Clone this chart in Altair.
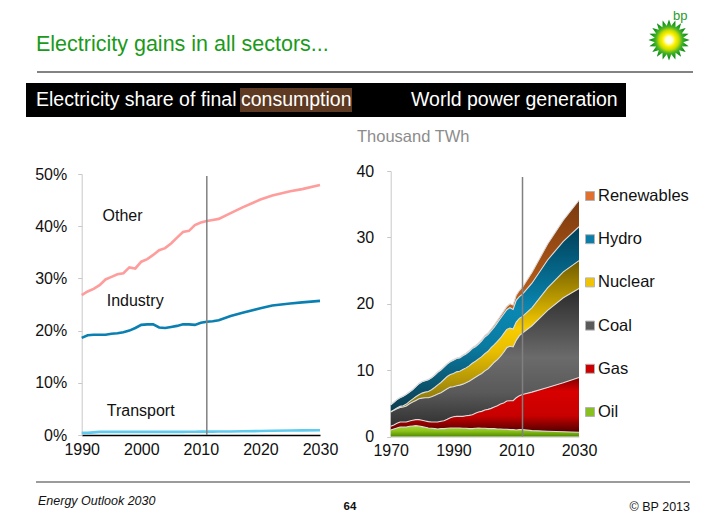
import math
import altair as alt
import pandas as pd

FONT = "Liberation Sans"

# ---------------- data: electricity share of final consumption (%) ----------------
share_years = list(range(1990, 2014)) + [2015, 2017, 2020, 2022, 2025, 2027, 2030]
share_other = [26.8, 27.5, 28.0, 28.7, 29.8, 30.3, 30.8, 31.0, 32.1, 31.9,
               33.2, 33.7, 34.5, 35.4, 35.8, 36.7, 37.8, 38.9, 39.1, 40.2,
               40.7, 41.0, 41.2, 41.4, 42.5, 43.6, 45.1, 45.9, 46.7, 47.1, 47.9]
share_industry = [18.6, 19.1, 19.2, 19.2, 19.2, 19.4, 19.5, 19.7, 20.0, 20.5,
                  21.1, 21.2, 21.2, 20.6, 20.5, 20.7, 20.9, 21.2, 21.2, 21.1,
                  21.5, 21.7, 21.8, 22.0, 22.8, 23.4, 24.3, 24.8, 25.2, 25.4, 25.7]
share_transport = [0.4, 0.4, 0.5, 0.6, 0.6, 0.6, 0.6, 0.6, 0.6, 0.6,
                   0.6, 0.6, 0.6, 0.6, 0.6, 0.6, 0.6, 0.6, 0.62, 0.63,
                   0.64, 0.65, 0.65, 0.66, 0.68, 0.72, 0.76, 0.8, 0.85, 0.88, 0.92]
share_series = ["Other", "Industry", "Transport"]
share_colors = ["#ff9c9c", "#0a7fb2", "#5ecbef"]
share_label_years = [1993.5, 1994.2, 1994.2]
share_label_values = [42.0, 25.7, 4.6]
share_ticks_y = [0, 10, 20, 30, 40, 50]
share_ticks_x = [1990, 2000, 2010, 2020, 2030]
share_marker_year = [2011]

# ---------------- data: world power generation (thousand TWh) ----------------
power_years = list(range(1970, 2013)) + [2015, 2020, 2025, 2030]
power_sources = ["Oil", "Gas", "Coal", "Nuclear", "Hydro", "Renewables"]
power_oil = [1.0, 1.15, 1.3, 1.45, 1.45, 1.45, 1.55, 1.6, 1.65, 1.6,
             1.5, 1.4, 1.3, 1.25, 1.2, 1.15, 1.2, 1.2, 1.25, 1.3,
             1.3, 1.3, 1.3, 1.25, 1.25, 1.2, 1.2, 1.25, 1.3, 1.25,
             1.25, 1.2, 1.2, 1.2, 1.15, 1.15, 1.1, 1.1, 1.05, 1.05,
             1.0, 1.05, 1.05, 0.9, 0.8, 0.72, 0.65]
power_gas = [0.55, 0.6, 0.7, 0.75, 0.75, 0.75, 0.8, 0.85, 0.9, 0.95,
             0.95, 0.95, 0.95, 0.95, 1.0, 1.05, 1.1, 1.2, 1.35, 1.55,
             1.7, 1.75, 1.75, 1.8, 1.9, 2.0, 2.1, 2.25, 2.4, 2.55,
             2.75, 2.9, 3.05, 3.25, 3.5, 3.75, 3.95, 4.25, 4.35, 4.35,
             4.85, 5.1, 5.3, 5.8, 6.6, 7.4, 8.25]
power_coal = [2.15, 2.2, 2.2, 2.2, 2.25, 2.4, 2.6, 2.75, 2.9, 3.15,
              3.35, 3.5, 3.6, 3.8, 4.0, 4.2, 4.3, 4.5, 4.6, 4.6,
              4.5, 4.6, 4.7, 4.85, 4.95, 5.15, 5.35, 5.45, 5.55, 5.7,
              5.9, 6.1, 6.45, 6.75, 6.95, 7.2, 7.65, 8.05, 8.2, 8.1,
              8.65, 9.05, 9.25, 10.0, 11.6, 12.78, 13.4]
power_nuclear = [0.05, 0.07, 0.1, 0.15, 0.2, 0.3, 0.35, 0.45, 0.55, 0.6,
                 0.75, 0.85, 0.95, 1.05, 1.2, 1.4, 1.55, 1.7, 1.85, 1.9,
                 2.0, 2.1, 2.1, 2.2, 2.25, 2.3, 2.4, 2.4, 2.45, 2.55,
                 2.6, 2.65, 2.7, 2.65, 2.75, 2.75, 2.8, 2.75, 2.75, 2.7,
                 2.75, 2.6, 2.5, 2.7, 3.4, 3.9, 4.2]
power_hydro = [1.02, 1.15, 1.27, 1.32, 1.42, 1.47, 1.42, 1.42, 1.52, 1.67,
               1.7, 1.7, 1.75, 1.8, 1.84, 1.89, 1.88, 1.87, 1.87, 1.91,
               2.0, 2.0, 1.99, 2.08, 2.08, 2.17, 2.21, 2.19, 2.22, 2.35,
               2.5, 2.51, 2.53, 2.65, 2.81, 2.97, 2.97, 2.95, 3.07, 2.95,
               3.27, 3.28, 3.35, 3.7, 4.2, 4.6, 5.1]
power_renewables = [0.03] * 10 + [
    0.05, 0.05, 0.05, 0.05, 0.06, 0.06, 0.07, 0.08, 0.08, 0.09,
    0.1, 0.1, 0.11, 0.12, 0.12, 0.13, 0.14, 0.16, 0.18, 0.2,
    0.22, 0.24, 0.27, 0.3, 0.34, 0.38, 0.43, 0.5, 0.58, 0.65,
    0.78, 0.92, 1.05, 1.6, 2.4, 3.2, 4.0]
power_ticks_y = [0, 10, 20, 30, 40]
power_ticks_x = [1970, 1990, 2010, 2030]
power_marker_year = [2012]
legend_order = ["Renewables", "Hydro", "Nuclear", "Coal", "Gas", "Oil"]
legend_colors = ["#e07030", "#0a7ea8", "#f0c400", "#5a5a5a", "#cc0000", "#88c020"]

# ---------------- tables ----------------
share_values = {"Other": share_other, "Industry": share_industry, "Transport": share_transport}
share_df = pd.DataFrame([
    {"year": y, "series": s, "value": v}
    for s in share_series for y, v in zip(share_years, share_values[s])
])
share_labels_df = pd.DataFrame({"name": share_series, "year": share_label_years,
                                "value": share_label_values})
share_rule_df = pd.DataFrame({"year": share_marker_year})

power_values = {"Oil": power_oil, "Gas": power_gas, "Coal": power_coal,
                "Nuclear": power_nuclear, "Hydro": power_hydro,
                "Renewables": power_renewables}
power_df = pd.DataFrame([
    {"year": y, "source": s, "order": i, "value": v}
    for i, s in enumerate(power_sources) for y, v in zip(power_years, power_values[s])
])
power_rule_df = pd.DataFrame({"year": power_marker_year})
legend_df = pd.DataFrame({"source": legend_order})
one = pd.DataFrame({"k": [0]})

# ---------------- canvas geometry (chart coords = page - 8) ----------------
W, H = 694, 507
xL = alt.Scale(domain=[1990, 2030], range=[73.7, 312.0], nice=False, zero=False)
yL = alt.Scale(domain=[0, 50], range=[427.0, 166.0], nice=False)
xR = alt.Scale(domain=[1970, 2030], range=[382.7, 571.0], nice=False, zero=False)
yR = alt.Scale(domain=[0, 40], range=[428.6, 163.0], nice=False)

common_axis = dict(grid=False, title=None, labelFont=FONT, labelFontSize=16,
                   labelColor="#111111", labelOverlap=False, labelFlush=False)
axL_x = alt.Axis(orient="bottom", offset=-80, values=share_ticks_x, format="d",
                 ticks=False, domainColor="#000000", domainWidth=1.3, labelPadding=6,
                 **common_axis)
axL_y = alt.Axis(orient="left", offset=-73.7, values=share_ticks_y,
                 labelExpr="datum.value + '%'", tickSize=4, tickColor="#c8c8c8",
                 domainColor="#c8c8c8", labelPadding=11, **common_axis)
axR_x = alt.Axis(orient="bottom", offset=-78.4, values=power_ticks_x, format="d",
                 ticks=False, domainColor="#c8c8c8", labelPadding=6, **common_axis)
axR_y = alt.Axis(orient="left", offset=-382.7, values=power_ticks_y, tickSize=4,
                 tickColor="#c8c8c8", domainColor="#c8c8c8", labelPadding=13,
                 **common_axis)

# ---------------- left chart ----------------
left_lines = alt.Chart(share_df).mark_line(strokeWidth=2.6).encode(
    x=alt.X("year:Q", scale=xL, axis=axL_x),
    y=alt.Y("value:Q", scale=yL, axis=axL_y),
    color=alt.Color("series:N", scale=alt.Scale(domain=share_series, range=share_colors),
                    legend=None),
)
left_labels = alt.Chart(share_labels_df).mark_text(
    align="left", baseline="middle", font=FONT, fontSize=16, color="#111111"
).encode(
    x=alt.X("year:Q", scale=xL, axis=axL_x),
    y=alt.Y("value:Q", scale=yL, axis=axL_y),
    text="name:N",
)
left_rule = alt.Chart(share_rule_df).mark_rule(color="#808080", strokeWidth=1.5).encode(
    x=alt.X("year:Q", scale=xL, axis=axL_x),
    y=alt.value(168), y2=alt.value(427),
)
left = alt.layer(left_lines, left_labels, left_rule)

# ---------------- right chart ----------------
def lg(stops):
    return alt.LinearGradient(
        gradient="linear", x1=0, y1=0, x2=0, y2=1,
        stops=[alt.GradientStop(offset=o, color=c) for o, c in stops])

fills = {
    "Oil": lg([(0, "#a8d838"), (0.5, "#8cc21a"), (1, "#4f8a00")]),
    "Gas": lg([(0, "#800000"), (0.25, "#d80000"), (0.7, "#c80000"), (1, "#500000")]),
    "Coal": lg([(0, "#2a2a2a"), (0.5, "#6b6b6b"), (0.75, "#5a5a5a"), (1, "#303030")]),
    "Nuclear": lg([(0, "#6e5a00"), (0.45, "#f7cc00"), (0.6, "#e8be00"), (1, "#7a6a10")]),
    "Hydro": lg([(0, "#003f58"), (0.45, "#0a88b2"), (0.65, "#0a7aa0"), (1, "#0c3a4c")]),
    "Renewables": lg([(0, "#7a3a0e"), (0.5, "#c0601a"), (1, "#f08030")]),
}

stacked = alt.Chart(power_df).transform_stack(
    stack="value", groupby=["year"], as_=["y0", "y1"],
    sort=[alt.SortField("order", order="ascending")],
)
area_layers = []
for s in power_sources:
    area_layers.append(
        stacked.transform_filter(alt.datum.source == s).mark_area(
            fill=fills[s], opacity=1
        ).encode(
            x=alt.X("year:Q", scale=xR, axis=axR_x),
            y=alt.Y("y1:Q", scale=yR, axis=axR_y),
            y2="y0:Q",
        )
    )
edges = stacked.mark_line(stroke="#dcdcdc", strokeWidth=1.1).encode(
    x=alt.X("year:Q", scale=xR, axis=axR_x),
    y=alt.Y("y1:Q", scale=yR, axis=axR_y),
    detail="source:N",
)
right_rule = alt.Chart(power_rule_df).mark_rule(color="#808080", strokeWidth=1.5).encode(
    x=alt.X("year:Q", scale=xR, axis=axR_x),
    y=alt.value(169), y2=alt.value(428.6),
)
right = alt.layer(*area_layers, edges, right_rule)

# ---------------- legend ----------------
ly = alt.Y("source:N", scale=alt.Scale(domain=legend_order, range=[188, 404], padding=0),
           axis=None)
legend_sq = alt.Chart(legend_df).mark_square(size=81, stroke="#b4b4b4", strokeWidth=1,
                                             opacity=1).encode(
    x=alt.value(582), y=ly,
    fill=alt.Fill("source:N", scale=alt.Scale(domain=legend_order, range=legend_colors),
                  legend=None),
)
legend_tx = alt.Chart(legend_df).mark_text(align="left", baseline="middle", font=FONT,
                                           fontSize=16.5, color="#111111").encode(
    x=alt.value(590), y=ly, text="source:N",
)
legend = alt.layer(legend_sq, legend_tx)

# ---------------- slide decorations ----------------
def txt(s, x, y, size, color, align="left", weight="normal", style="normal"):
    return alt.Chart(one).mark_text(
        text=s, align=align, baseline="middle", font=FONT, fontSize=size,
        color=color, fontWeight=weight, fontStyle=style,
    ).encode(x=alt.value(x), y=alt.value(y))


def hline(x1, x2, y, color, width):
    return alt.Chart(one).mark_rule(color=color, strokeWidth=width).encode(
        x=alt.value(x1), x2=alt.value(x2), y=alt.value(y))


def box(x1, x2, y1, y2, color):
    return alt.Chart(one).mark_rect(color=color).encode(
        x=alt.value(x1), x2=alt.value(x2), y=alt.value(y1), y2=alt.value(y2))


star = []
n = 20
for i in range(2 * n):
    r = 1.0 if i % 2 == 0 else 0.7
    a = math.pi * i / n - math.pi / 2
    star.append(f"{r * math.cos(a):.3f},{r * math.sin(a):.3f}")
star_path = "M" + " L".join(star) + " Z"
helios = alt.Chart(one).mark_point(
    shape=star_path, size=1700, filled=True, strokeWidth=0, opacity=1,
    fill=alt.RadialGradient(
        gradient="radial", x1=0.5, y1=0.5, r1=0, x2=0.5, y2=0.5, r2=0.5,
        stops=[alt.GradientStop(offset=0, color="#ffffff"),
               alt.GradientStop(offset=0.16, color="#ffffe0"),
               alt.GradientStop(offset=0.32, color="#fff200"),
               alt.GradientStop(offset=0.48, color="#c8dc00"),
               alt.GradientStop(offset=0.64, color="#4cb428"),
               alt.GradientStop(offset=0.82, color="#169a1a"),
               alt.GradientStop(offset=1, color="#0a7a10")]),
).encode(x=alt.value(661), y=alt.value(32))

decor = [
    txt("Electricity gains in all sectors...", 28, 37, 21.5, "#1a9a1a"),
    hline(29, 685, 64, "#5a5a5a", 1.5),
    box(18, 618, 75, 109, "#000000"),
    box(232, 344, 80, 104, "#5e3a22"),
    txt("Electricity share of final", 28, 92, 19.5, "#ffffff"),
    txt("consumption", 233, 92, 19.5, "#ffffff"),
    txt("World power generation", 403, 92, 19.5, "#ffffff"),
    txt("Thousand TWh", 349, 129, 16.5, "#8c8c8c"),
    hline(28, 682, 474, "#7a7a7a", 1.5),
    txt("Energy Outlook 2030", 30, 493, 12.5, "#111111", style="italic"),
    txt("64", 342, 499, 11.5, "#111111", align="center", weight="bold"),
    txt("\u00a9 BP 2013", 682, 499, 12.5, "#111111", align="right"),
    helios,
    txt("bp", 665, 8, 13, "#2a9a2a"),
]

chart = alt.layer(left, right, legend, *decor).resolve_scale(
    x="independent", y="independent", color="independent", fill="independent"
).properties(
    width=W, height=H, padding=0,
    autosize=alt.AutoSizeParams(type="none"),
    background="#ffffff",
).configure_view(strokeWidth=0)

chart.save("out.html", embed_options={"renderer": "svg", "actions": False})
